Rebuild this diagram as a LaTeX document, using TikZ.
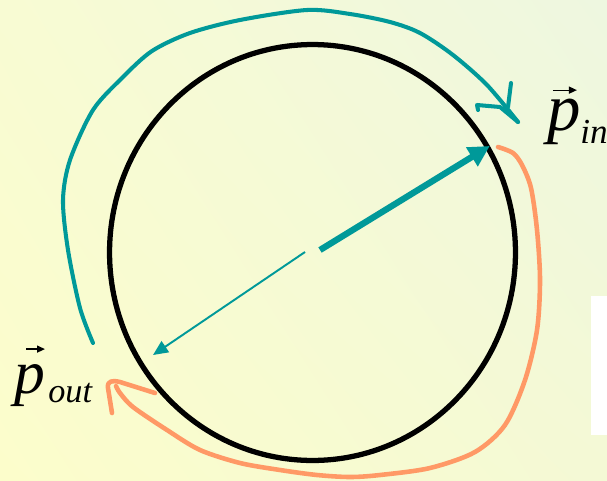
\documentclass[tikz,border=0pt]{standalone}
\usepackage{fontspec}
\setmainfont{Liberation Serif}
\usetikzlibrary{arrows.meta, shapes.geometric, shadings}
\definecolor{tealink}{HTML}{009999}
\definecolor{orangeink}{HTML}{FF9966}
\definecolor{bgul}{HTML}{F8FBD3}
\definecolor{bgur}{HTML}{EEF7E0}
\definecolor{bgll}{HTML}{FCFDCB}
\definecolor{bglr}{HTML}{F4F9D5}

\begin{document}
\begin{tikzpicture}[x=0.02cm, y=-0.02cm,
    rim/.style={draw=black, line width=3pt, ellipse, inner sep=0pt, minimum width=8.12cm, minimum height=8.32cm},
    pushline/.style={tealink, line width=3.6pt, -{Triangle[length=12pt,width=12pt]}},
    pullline/.style={tealink, line width=1.1pt, -{Triangle[length=8.5pt,width=7.5pt]}},
    scribble/.style={line width=#1, line cap=round, line join=round},
    pvar/.style={anchor=base west, inner sep=0pt, font=\fontsize{#1}{#1}\selectfont\itshape},
    vecbar/.style={black, line width=0.7pt, -{Triangle[length=4.5pt,width=4pt]}}]
  \clip (0,0) rectangle (607,480);
  \shade[upper left=bgul, upper right=bgur, lower left=bgll, lower right=bglr] (0,0) rectangle (607,480);

  % white box on the right edge
  \fill[white] (591,296) rectangle (610,435);

  % the ring
  \node[rim] (orbit) at (312.5,252.5) {};

  % momentum arrows
  \coordinate (inTail) at (320,250);
  \coordinate (outTail) at (305,252);
  \coordinate (outTip) at (153,355);
  \draw[pushline] (inTail) -- (orbit.31.5);
  \draw[pullline] (outTail) -- (outTip);

  % labels
  \node[pvar=38] (pin) at (547,130) {p};
  \node[pvar=20] (pinsub) at (580,143) {in};
  \draw[vecbar] ([xshift=3.4pt, yshift=22.7pt]pin.base west) -- ([xshift=17pt, yshift=22.7pt]pin.base west);
  \node[pvar=35] (pout) at (14,393) {p};
  \node[pvar=19.5] (poutsub) at (48,402) {out};
  \draw[vecbar] ([xshift=7pt, yshift=25pt]pout.base west) -- ([xshift=17.6pt, yshift=25pt]pout.base west);

  % teal hand stroke
  \draw[tealink, scribble=2.3pt] plot[smooth, tension=0.5] coordinates {
    (93,343) (80,308) (68,250) (63,200) (70,160) (93,110) (123,77)
    (152,51) (190,33) (240,20) (307,10) (350,14) (390,22) (420,33) (453,55) (487,85) (518,122)};
  \draw[tealink, scribble=2.3pt] (478,110) -- (477,105) -- (500,107) -- (518,122);
  \draw[tealink, scribble=2.3pt] (511,83) -- (508,107) -- (503,109);

  % orange hand stroke
  \draw[orangeink, scribble=2.6pt] plot[smooth, tension=0.5] coordinates {
    (498,147) (513,153) (522,165) (531,188) (537,230) (540,280) (537,330) (525,380)
    (505,425) (475,452) (430,468) (380,475) (350,477) (317,475) (280,470) (240,463)
    (200,450) (167,430) (133,407) (120,393) (116,386)};
  \draw[orangeink, scribble=2.6pt] (112,413) -- (108,388) .. controls (107,381) and (112,380) .. (120,382) -- (155,393);
\end{tikzpicture}
\end{document}
